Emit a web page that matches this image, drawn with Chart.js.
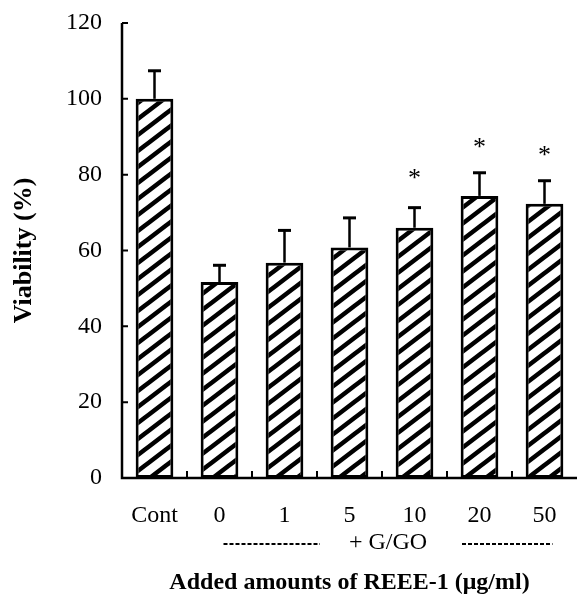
<!DOCTYPE html>
<html>
<head>
<meta charset="utf-8">
<script src="https://cdn.jsdelivr.net/npm/chart.js@4.4.0/dist/chart.umd.min.js"></script>
<style>
  html, body { margin: 0; padding: 0; background: #fff; }
  #wrap { width: 577px; height: 597px; }
</style>
</head>
<body>
<div id="wrap"><canvas id="viabilityChart" width="577" height="597"></canvas></div>
<script>
// data
const categories = ['Cont', '0', '1', '5', '10', '20', '50'];
const viability = [100, 51.7, 56.8, 60.8, 66, 74.4, 72.3];
const errorUp = [7.4, 4.4, 8.5, 7.8, 5.3, 6.1, 6.1];
const starAt = [null, null, null, null, 79.4, 87.6, 85.5];
const yTicks = [0, 20, 40, 60, 80, 100, 120];

const SERIF = '"Liberation Serif", "DejaVu Serif", serif';

// diagonal hatch like the printed bars
function makeHatch() {
    const w = 21, h = 16;
    const c = document.createElement('canvas');
    c.width = w; c.height = h;
    const g = c.getContext('2d');
    g.fillStyle = '#fff';
    g.fillRect(0, 0, w, h);
    g.strokeStyle = '#000';
    g.lineWidth = 4.5;
    g.beginPath();
    [-h, 0, h].forEach(d => {
        g.moveTo(-w, 2 * h + d);
        g.lineTo(2 * w, -h + d);
    });
    g.stroke();
    return g.createPattern(c, 'repeat');
}

const extrasPlugin = {
    id: 'extras',
    afterDatasetsDraw(chart) {
        const ctx = chart.ctx;
        const xs = chart.scales.x, ys = chart.scales.y;
        const meta = chart.getDatasetMeta(0);
        ctx.save();
        ctx.strokeStyle = '#000';
        ctx.fillStyle = '#000';

        // error bars (upper only)
        meta.data.forEach((bar, i) => {
            const top = ys.getPixelForValue(viability[i]);
            const end = ys.getPixelForValue(viability[i] + errorUp[i]);
            ctx.lineWidth = 2.5;
            ctx.beginPath();
            ctx.moveTo(bar.x, top);
            ctx.lineTo(bar.x, end);
            ctx.stroke();
            ctx.lineWidth = 3;
            ctx.beginPath();
            ctx.moveTo(bar.x - 6.5, end);
            ctx.lineTo(bar.x + 6.5, end);
            ctx.stroke();
            if (starAt[i] !== null) {
                ctx.font = '26px ' + SERIF;
                ctx.textAlign = 'center';
                ctx.textBaseline = 'middle';
                ctx.fillText('*', bar.x, ys.getPixelForValue(starAt[i]) + 2);
            }
        });

        // axes with inward ticks
        const a = chart.chartArea;
        ctx.lineWidth = 2.5;
        ctx.beginPath();
        ctx.moveTo(a.left, a.top);
        ctx.lineTo(a.left, a.bottom);
        ctx.lineTo(a.right, a.bottom);
        ctx.stroke();
        ctx.lineWidth = 2;
        ctx.beginPath();
        yTicks.forEach(v => {
            if (v === 0) return;
            const py = ys.getPixelForValue(v);
            ctx.moveTo(a.left, py);
            ctx.lineTo(a.left + 6, py);
        });
        for (let i = 1; i < categories.length; i++) {
            const px = (xs.getPixelForValue(i - 1) + xs.getPixelForValue(i)) / 2;
            ctx.moveTo(px, a.bottom);
            ctx.lineTo(px, a.bottom - 7);
        }
        ctx.stroke();

        // "+ G/GO" group marker with dashed rules
        const gy = a.bottom + 65;
        const x1 = xs.getPixelForValue(1), x6 = xs.getPixelForValue(6);
        const mid = (x1 + x6) / 2 + 6;
        ctx.font = '24px ' + SERIF;
        ctx.textAlign = 'center';
        ctx.textBaseline = 'middle';
        ctx.fillText('+ G/GO', mid, gy);
        ctx.lineWidth = 2;
        ctx.setLineDash([4, 2]);
        ctx.beginPath();
        ctx.moveTo(x1 + 4, gy + 1);
        ctx.lineTo(mid - 68, gy + 1);
        ctx.moveTo(mid + 74, gy + 1);
        ctx.lineTo(x6 + 8, gy + 1);
        ctx.stroke();
        ctx.restore();
    }
};

new Chart(document.getElementById('viabilityChart').getContext('2d'), {
    type: 'bar',
    data: {
        labels: categories,
        datasets: [{
            data: viability,
            backgroundColor: makeHatch(),
            borderColor: '#000',
            borderWidth: 3,
            borderSkipped: false,
            barPercentage: 0.58,
            categoryPercentage: 1.0
        }]
    },
    options: {
        responsive: false,
        animation: false,
        layout: { padding: { left: 0, right: 0, top: 23, bottom: 0 } },
        plugins: {
            legend: { display: false },
            tooltip: { enabled: false }
        },
        scales: {
            x: {
                grid: { display: false, drawTicks: false },
                border: { display: false },
                ticks: {
                    color: '#000',
                    padding: 23,
                    font: { family: SERIF, size: 24 }
                },
                title: {
                    display: true,
                    text: 'Added amounts of REEE-1 (\u03bcg/ml)',
                    color: '#000',
                    font: { family: SERIF, size: 24, weight: 'bold' },
                    padding: { top: 0, bottom: 0 }
                },
                afterFit(scale) {
                    scale.height = 119;
                    scale.paddingLeft = 0;
                    scale.paddingRight = 0;
                }
            },
            y: {
                min: 0,
                max: 120,
                grid: { display: false, drawTicks: false },
                border: { display: false },
                afterBuildTicks(scale) { scale.ticks = yTicks.map(v => ({ value: v })); },
                ticks: {
                    color: '#000',
                    padding: 20,
                    font: { family: SERIF, size: 24 }
                },
                title: {
                    display: true,
                    text: 'Viability (%)',
                    color: '#000',
                    font: { family: SERIF, size: 26, weight: 'bold' },
                    padding: { top: 9, bottom: 0 }
                },
                afterFit(scale) {
                    scale.width = 122;
                    scale.paddingTop = 0;
                    scale.paddingBottom = 0;
                }
            }
        }
    },
    plugins: [extrasPlugin]
});
</script>
</body>
</html>
